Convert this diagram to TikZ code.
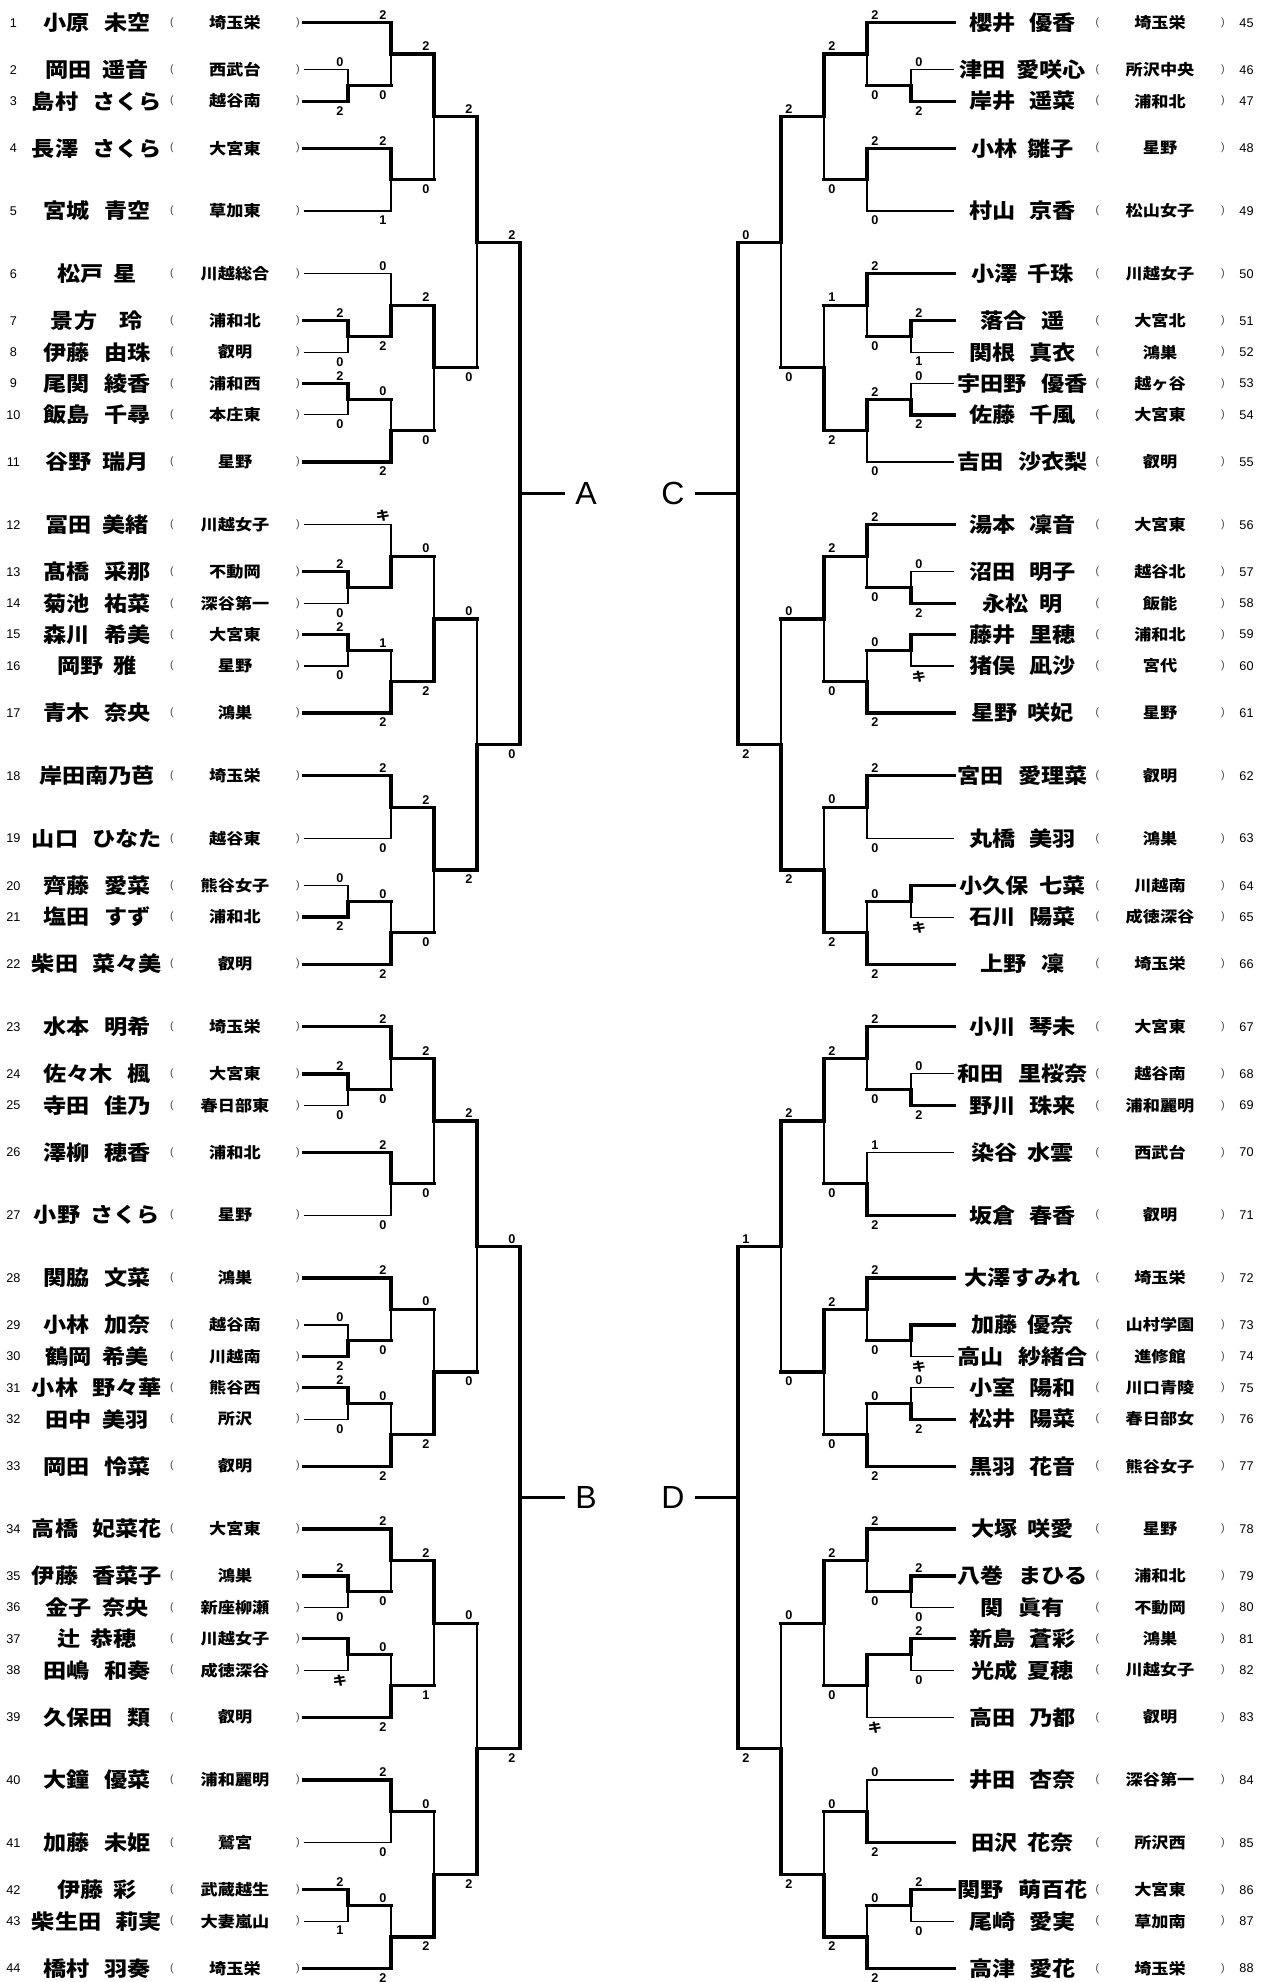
\documentclass[tikz,border=0pt]{standalone}
\usepackage{fontspec}
\setmainfont{Liberation Sans}
\newfontfamily\jp[FakeStretch=1.12]{Noto Sans CJK JP}
\usetikzlibrary{calc}

\newcommand\fs{\hspace{0.7em}}
\newcommand\hs{\hspace{0.5em}}
\newcommand\kiken{{\jp\bfseries キ}}
% one feed line into a bout: won = thick, lost = thin, out = thick stub, thin riser
\newcommand\feedwon[2]{\draw[wline] (#1) -| (#2);}
\newcommand\feedlost[2]{\draw[lline] (#1) -| (#2);}
\newcommand\feedout[2]{\draw[wline] (#1) -- (#1 -| #2); \draw[lline] (#1 -| #2) -- (#2);}
\newcommand\lx{-8}
% #1 level x, #2 upper, #3 lower, #4 junction, #5/#6 feed kind, #7/#8 scores
\newcommand\bout[8]{%
  \coordinate (lv) at (#1,0);
  \coordinate (mid) at ($(#2)!.5!(#3)$);
  \coordinate (#4) at (lv |- mid);
  \csname feed#5\endcsname{#2}{#4}%
  \csname feed#6\endcsname{#3}{#4}%
  \node[uplab] (#4u) at ($(#2 -| #4)+(\lx,0)$) {#7};
  \node[lowlab] (#4l) at ($(#3 -| #4)+(\lx,0)$) {#8};
}

\begin{document}
\begin{tikzpicture}[
    x=0.75pt, y=-0.75pt,
    wline/.style={line width=2.4pt, line cap=rect},
    lline/.style={line width=0.8pt},
    uplab/.style={font=\bfseries\fontsize{9.5}{10}\selectfont, anchor=south, inner sep=2.2pt},
    lowlab/.style={font=\bfseries\fontsize{9.5}{10}\selectfont, anchor=north, inner sep=3.6pt},
    num/.style={font=\fontsize{9.5}{10}\selectfont},
    pname/.style={font=\jp\bfseries\fontsize{15.5}{16}\selectfont},
    school/.style={font=\jp\bfseries\fontsize{11.5}{12}\selectfont},
    par/.style={font=\fontsize{8}{9}\selectfont, text=black!75},
    blk/.style={font=\fontsize{24}{26}\selectfont, inner xsep=9pt, inner ysep=0pt}
  ]
  \useasboundingbox (0,0) rectangle (1271,1982);

  % left entries
  \foreach \idx/\row/\who/\club in {1/0/小原\fs 未空/埼玉栄, 2/3/岡田\hs 遥音/西武台,
      3/5/島村\fs さくら/越谷南, 4/8/長澤\fs さくら/大宮東, 5/12/宮城\fs 青空/草加東,
      6/16/松戸\hs 星/川越総合, 7/19/景方\hspace{1.1em}玲/浦和北, 8/21/伊藤\fs 由珠/叡明,
      9/23/尾関\fs 綾香/浦和西, 10/25/飯島\fs 千尋/本庄東, 11/28/谷野\hs 瑞月/星野,
      12/32/冨田\hs 美緒/川越女子, 13/35/髙橋\fs 采那/不動岡, 14/37/菊池\fs 祐菜/深谷第一,
      15/39/森川\fs 希美/大宮東, 16/41/岡野\hs 雅/星野, 17/44/青木\fs 奈央/鴻巣,
      18/48/岸田南乃芭/埼玉栄, 19/52/山口\fs ひなた/越谷東, 20/55/齊藤\fs 愛菜/熊谷女子,
      21/57/塩田\fs すず/浦和北, 22/60/柴田\fs 菜々美/叡明,
      23/64/水本\fs 明希/埼玉栄, 24/67/佐々木\fs 楓/大宮東, 25/69/寺田\fs 佳乃/春日部東,
      26/72/澤柳\fs 穂香/浦和北, 27/76/小野\hs さくら/星野, 28/80/関脇\fs 文菜/鴻巣,
      29/83/小林\fs 加奈/越谷南, 30/85/鶴岡\hs 希美/川越南, 31/87/小林\fs 野々華/熊谷西,
      32/89/田中\hs 美羽/所沢, 33/92/岡田\fs 怜菜/叡明, 34/96/高橋\fs 妃菜花/大宮東,
      35/99/伊藤\fs 香菜子/鴻巣, 36/101/金子\hs 奈央/新座柳瀬, 37/103/辻\hs 恭穂/川越女子,
      38/105/田嶋\fs 和奏/成徳深谷, 39/108/久保田\fs 類/叡明, 40/112/大鐘\fs 優菜/浦和麗明,
      41/116/加藤\fs 未姫/鷲宮, 42/119/伊藤\hs 彩/武蔵越生, 43/121/柴生田\fs 莉実/大妻嵐山,
      44/124/橋村\fs 羽奏/埼玉栄}{
    \node[num] (no\idx) at (13.4,{22.7+15.69*\row}) {\idx};
    \node[pname] (nm\idx) at (97,{22.7+15.69*\row}) {\who};
    \node[par] (lp\idx) at (172,{22.7+15.69*\row}) {(};
    \node[school] (sc\idx) at (235,{22.7+15.69*\row}) {\club};
    \node[par] (rp\idx) at (298,{22.7+15.69*\row}) {)};
    \coordinate (p\idx) at (303.5,{22.7+15.69*\row});
  }

  % right entries
  \foreach \idx/\row/\who/\club in {45/0/櫻井\fs 優香/埼玉栄, 46/3/津田\hs 愛咲心/所沢中央,
      47/5/岸井\fs 遥菜/浦和北, 48/8/小林\hs 雛子/星野, 49/12/村山\fs 京香/松山女子,
      50/16/小澤\hs 千珠/川越女子, 51/19/落合\fs 遥/大宮北, 52/21/関根\fs 真衣/鴻巣,
      53/23/宇田野\fs 優香/越ヶ谷, 54/25/佐藤\fs 千風/大宮東, 55/28/吉田\fs 沙衣梨/叡明,
      56/32/湯本\fs 凜音/大宮東, 57/35/沼田\fs 明子/越谷北, 58/37/永松\hs 明/飯能,
      59/39/藤井\fs 里穂/浦和北, 60/41/猪俣\fs 凪沙/宮代, 61/44/星野\hs 咲妃/星野,
      62/48/宮田\fs 愛理菜/叡明, 63/52/丸橋\fs 美羽/鴻巣, 64/55/小久保\hs 七菜/川越南,
      65/57/石川\fs 陽菜/成徳深谷, 66/60/上野\fs 凜/埼玉栄,
      67/64/小川\fs 琴未/大宮東, 68/67/和田\fs 里桜奈/越谷南, 69/69/野川\fs 珠来/浦和麗明,
      70/72/染谷\hs 水雲/西武台, 71/76/坂倉\fs 春香/叡明, 72/80/大澤すみれ/埼玉栄,
      73/83/加藤\hs 優奈/山村学園, 74/85/高山\fs 紗緒合/進修館, 75/87/小室\fs 陽和/川口青陵,
      76/89/松井\fs 陽菜/春日部女, 77/92/黒羽\fs 花音/熊谷女子, 78/96/大塚\hs 咲愛/星野,
      79/99/八巻\fs まひる/浦和北, 80/101/関\fs 眞有/不動岡, 81/103/新島\fs 蒼彩/鴻巣,
      82/105/光成\hs 夏穂/川越女子, 83/108/高田\fs 乃都/叡明, 84/112/井田\fs 杏奈/深谷第一,
      85/116/田沢\hs 花奈/所沢西, 86/119/関野\fs 萌百花/大宮東, 87/121/尾崎\fs 愛実/草加南,
      88/124/高津\fs 愛花/埼玉栄}{
    \node[pname] (nm\idx) at (1022.6,{22.7+15.69*\row}) {\who};
    \node[par] (lp\idx) at (1097.5,{22.7+15.69*\row}) {(};
    \node[school] (sc\idx) at (1160,{22.7+15.69*\row}) {\club};
    \node[par] (rp\idx) at (1223,{22.7+15.69*\row}) {)};
    \node[num] (no\idx) at (1246.5,{22.7+15.69*\row}) {\idx};
    \coordinate (p\idx) at (954,{22.7+15.69*\row});
  }

  % block A
  \bout{348}{p2}{p3}{A1}{lost}{won}{0}{2}
  \bout{391}{p1}{A1}{A2}{won}{out}{2}{0}
  \bout{391}{p4}{p5}{A3}{won}{lost}{2}{1}
  \bout{434}{A2}{A3}{A4}{won}{out}{2}{0}
  \bout{348}{p7}{p8}{A5}{won}{lost}{2}{0}
  \bout{391}{p6}{A5}{A6}{lost}{won}{0}{2}
  \bout{348}{p9}{p10}{A7}{won}{lost}{2}{0}
  \bout{391}{A7}{p11}{A8}{out}{won}{0}{2}
  \bout{434}{A6}{A8}{A9}{won}{out}{2}{0}
  \bout{477}{A4}{A9}{A10}{won}{out}{2}{0}
  \bout{348}{p13}{p14}{A11}{won}{lost}{2}{0}
  \bout{391}{p12}{A11}{A12}{lost}{won}{\kiken}{}
  \bout{348}{p15}{p16}{A13}{won}{lost}{2}{0}
  \bout{391}{A13}{p17}{A14}{out}{won}{1}{2}
  \bout{434}{A12}{A14}{A15}{out}{won}{0}{2}
  \bout{391}{p18}{p19}{A16}{won}{lost}{2}{0}
  \bout{348}{p20}{p21}{A17}{lost}{won}{0}{2}
  \bout{391}{A17}{p22}{A18}{out}{won}{0}{2}
  \bout{434}{A16}{A18}{A19}{won}{out}{2}{0}
  \bout{477}{A15}{A19}{A20}{out}{won}{0}{2}
  \bout{520}{A10}{A20}{A21}{won}{won}{2}{0}

  % block B
  \bout{348}{p24}{p25}{B1}{won}{lost}{2}{0}
  \bout{391}{p23}{B1}{B2}{won}{out}{2}{0}
  \bout{391}{p26}{p27}{B3}{won}{lost}{2}{0}
  \bout{434}{B2}{B3}{B4}{won}{out}{2}{0}
  \bout{348}{p29}{p30}{B5}{lost}{won}{0}{2}
  \bout{391}{p28}{B5}{B6}{won}{out}{2}{0}
  \bout{348}{p31}{p32}{B7}{won}{lost}{2}{0}
  \bout{391}{B7}{p33}{B8}{out}{won}{0}{2}
  \bout{434}{B6}{B8}{B9}{out}{won}{0}{2}
  \bout{477}{B4}{B9}{B10}{won}{out}{2}{0}
  \bout{348}{p35}{p36}{B11}{won}{lost}{2}{0}
  \bout{391}{p34}{B11}{B12}{won}{out}{2}{0}
  \bout{348}{p37}{p38}{B13}{won}{lost}{}{\kiken}
  \bout{391}{B13}{p39}{B14}{out}{won}{0}{2}
  \bout{434}{B12}{B14}{B15}{won}{out}{2}{1}
  \bout{391}{p40}{p41}{B16}{won}{lost}{2}{0}
  \bout{348}{p42}{p43}{B17}{won}{lost}{2}{1}
  \bout{391}{B17}{p44}{B18}{out}{won}{0}{2}
  \bout{434}{B16}{B18}{B19}{out}{won}{0}{2}
  \bout{477}{B15}{B19}{B20}{out}{won}{0}{2}
  \bout{520}{B10}{B20}{B21}{won}{won}{0}{2}

  \renewcommand\lx{8}
  % block C
  \bout{911}{p46}{p47}{C1}{lost}{won}{0}{2}
  \bout{867}{p45}{C1}{C2}{won}{out}{2}{0}
  \bout{867}{p48}{p49}{C3}{won}{lost}{2}{0}
  \bout{824}{C2}{C3}{C4}{won}{out}{2}{0}
  \bout{911}{p51}{p52}{C5}{won}{lost}{2}{1}
  \bout{867}{p50}{C5}{C6}{won}{out}{2}{0}
  \bout{911}{p53}{p54}{C7}{lost}{won}{0}{2}
  \bout{867}{C7}{p55}{C8}{won}{lost}{2}{0}
  \bout{824}{C6}{C8}{C9}{out}{won}{1}{2}
  \bout{781}{C4}{C9}{C10}{won}{out}{2}{0}
  \bout{911}{p57}{p58}{C11}{lost}{won}{0}{2}
  \bout{867}{p56}{C11}{C12}{won}{out}{2}{0}
  \bout{911}{p59}{p60}{C13}{won}{lost}{}{\kiken}
  \bout{867}{C13}{p61}{C14}{out}{won}{0}{2}
  \bout{824}{C12}{C14}{C15}{won}{out}{2}{0}
  \bout{867}{p62}{p63}{C16}{won}{lost}{2}{0}
  \bout{911}{p64}{p65}{C17}{won}{lost}{}{\kiken}
  \bout{867}{C17}{p66}{C18}{out}{won}{0}{2}
  \bout{824}{C16}{C18}{C19}{out}{won}{0}{2}
  \bout{781}{C15}{C19}{C20}{out}{won}{0}{2}
  \bout{738}{C10}{C20}{C21}{won}{won}{0}{2}

  % block D
  \bout{911}{p68}{p69}{D1}{lost}{won}{0}{2}
  \bout{867}{p67}{D1}{D2}{won}{out}{2}{0}
  \bout{867}{p70}{p71}{D3}{lost}{won}{1}{2}
  \bout{824}{D2}{D3}{D4}{won}{out}{2}{0}
  \bout{911}{p73}{p74}{D5}{won}{lost}{}{\kiken}
  \bout{867}{p72}{D5}{D6}{won}{out}{2}{0}
  \bout{911}{p75}{p76}{D7}{lost}{won}{0}{2}
  \bout{867}{D7}{p77}{D8}{out}{won}{0}{2}
  \bout{824}{D6}{D8}{D9}{won}{out}{2}{0}
  \bout{781}{D4}{D9}{D10}{won}{out}{2}{0}
  \bout{911}{p79}{p80}{D11}{won}{lost}{2}{0}
  \bout{867}{p78}{D11}{D12}{won}{out}{2}{0}
  \bout{911}{p81}{p82}{D13}{won}{lost}{2}{0}
  \bout{867}{D13}{p83}{D14}{won}{lost}{}{\kiken}
  \bout{824}{D12}{D14}{D15}{won}{out}{2}{0}
  \bout{867}{p84}{p85}{D16}{lost}{won}{0}{2}
  \bout{911}{p86}{p87}{D17}{won}{lost}{2}{0}
  \bout{867}{D17}{p88}{D18}{out}{won}{0}{2}
  \bout{824}{D16}{D18}{D19}{out}{won}{0}{2}
  \bout{781}{D15}{D19}{D20}{out}{won}{0}{2}
  \bout{738}{D10}{D20}{D21}{won}{won}{1}{2}

  % block winners
  \node[blk] (labA) at ($(A21)+(66,0)$) {A};
  \node[blk] (labB) at ($(B21)+(66,0)$) {B};
  \node[blk] (labC) at ($(C21)+(-65,0)$) {C};
  \node[blk] (labD) at ($(D21)+(-65,0)$) {D};
  \draw[wline] (A21) -- (labA);
  \draw[wline] (B21) -- (labB);
  \draw[wline] (C21) -- (labC);
  \draw[wline] (D21) -- (labD);
\end{tikzpicture}
\end{document}
